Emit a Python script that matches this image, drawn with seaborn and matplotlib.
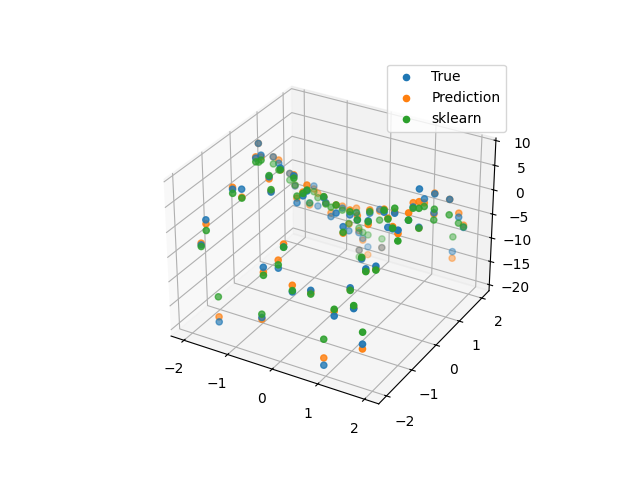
import matplotlib
matplotlib.use('Agg')
import matplotlib.pyplot as plt
import seaborn as sns

x = [-1.34,-0.37,-0.31,-0.21,0.31,0.60,1.21,0.98,1.22,1.62,1.81,1.53,1.68,1.11,-0.16,-0.29,-0.05,-1.69,-1.57,-1.30,-1.13,-1.61,-1.31,-1.26,-0.77,-0.67,-1.68,-1.37,-0.69,-1.50,-0.33,-1.36,-0.55,0.02,-0.10,-1.02,-1.02,-0.90,0.21,-0.22,-0.26,0.46,-0.26,0.55,-0.01,0.70,0.68,-0.06,-0.04,-0.11,1.05,0.71,0.57,0.08,1.40,1.51,1.57,1.76,2.02,1.97,1.70,1.91,1.72,1.87,1.79,2.05,1.75,2.05,2.05,1.62]
y = [-2.04,-2.04,-2.05,-1.68,-2.04,-1.86,-2.05,-2.04,-1.47,-2.05,-2.05,-1.44,-1.33,-0.84,1.72,1.59,-1.74,-2.04,-2.03,-1.50,-1.45,-0.07,-0.65,-0.54,-1.05,-1.15,0.58,0.28,-0.77,0.90,-0.88,0.87,-0.41,-1.14,-0.79,0.86,1.03,0.98,-0.70,0.12,0.39,-0.67,0.84,-0.30,0.96,-0.28,-0.79,0.75,1.12,1.41,-0.49,0.19,0.85,1.87,-0.52,-0.57,-0.42,-0.85,-1.13,-0.63,0.07,-0.10,0.49,0.62,0.77,0.90,0.23,1.32,1.55,1.98]
z_true = [-16.79,-13.06,-2.67,-4.33,-5.92,-5.65,-8.10,-18.86,-5.29,-5.44,-11.99,-0.81,-0.39,-2.84,-15.68,-16.14,0.62,-1.98,3.28,7.66,7.89,9.96,10.15,10.40,9.48,7.17,4.39,5.08,10.23,0.07,10.04,-2.06,2.13,8.14,7.26,-4.70,-1.90,-5.56,6.34,0.64,-3.49,3.82,-3.74,2.02,-4.60,1.33,2.23,-7.55,-9.56,-12.29,3.01,0.60,-1.92,-15.89,5.75,3.28,5.54,4.91,6.61,6.17,4.93,9.73,4.74,5.54,0.91,3.68,0.32,-1.77,-4.91,-13.10]
z_pred = [-15.74,-13.40,-3.68,-2.71,-4.58,-6.00,-7.15,-17.36,-5.60,-5.29,-12.96,-1.20,-0.97,-2.63,-17.36,-16.14,1.20,-1.64,2.48,8.05,6.32,9.96,10.40,10.06,9.08,7.36,4.39,5.75,9.86,0.07,10.23,-1.96,3.07,8.87,8.43,-5.12,-2.52,-2.92,6.48,0.58,-2.73,5.41,-3.32,3.01,-3.63,2.19,0.93,-6.15,-9.14,-12.66,2.29,1.27,-2.25,-15.89,6.34,5.10,5.79,5.35,5.96,7.57,5.77,7.26,3.95,5.69,0.66,3.68,0.18,-0.95,-4.43,-14.51]
z_sk = [-11.59,-12.37,-4.28,-3.66,-5.65,-6.40,-6.76,-13.52,-5.81,-4.85,-9.58,-1.35,-1.16,-2.48,-13.10,-17.60,0.55,-2.32,1.16,6.86,6.13,6.20,9.42,9.42,9.73,7.66,2.94,3.72,9.86,-1.31,9.60,-1.85,3.47,8.62,7.45,-4.70,-3.09,-3.82,6.55,0.39,-1.56,5.41,-4.16,2.67,-4.54,1.33,1.12,-6.00,-8.62,-11.01,2.82,0.93,-4.12,-14.00,6.15,4.91,6.52,5.06,4.53,6.17,4.68,5.96,3.22,2.50,-0.56,0.58,0.11,-2.99,-4.79,-9.98]

colors = sns.color_palette('tab10')

fig = plt.figure()
ax = fig.add_subplot(projection='3d')
# keep green on top of blue on top of orange
ax.computed_zorder = False
ax.scatter(x, y, z_true, color=colors[0], label='True', zorder=2)
ax.scatter(x, y, z_pred, color=colors[1], label='Prediction', zorder=1)
ax.scatter(x, y, z_sk, color=colors[2], label='sklearn', zorder=3)
ax.set_xlim(-2.3, 2.3)
ax.set_ylim(-2.3, 2.33)
ax.set_zlim(-21.3, 10.5)
ax.legend()
fig.savefig('out.png')
